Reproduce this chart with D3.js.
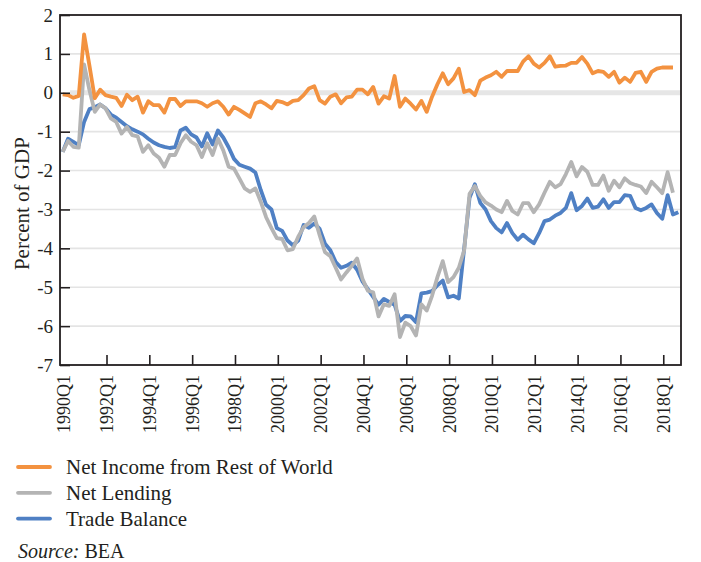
<!DOCTYPE html>
<html>
<head>
<meta charset="utf-8">
<script src="https://cdn.jsdelivr.net/npm/d3@7/dist/d3.min.js"></script>
<style>
  body { margin: 0; background: #fff; }
  svg text { font-family: "Liberation Serif", "DejaVu Serif", serif; fill: #231f20; }
</style>
</head>
<body>
<div id="chart"></div>
<script>
// quarterly series, percent of GDP, starting 1990Q1
const netIncome = [
  -0.04, -0.06, -0.13, -0.08, 1.5, 0.7, -0.14, 0.08, -0.06, -0.1,
  -0.13, -0.34, -0.05, -0.19, -0.1, -0.51, -0.22, -0.32, -0.32, -0.51,
  -0.16, -0.16, -0.34, -0.22, -0.22, -0.22, -0.27, -0.36, -0.27, -0.22,
  -0.36, -0.56, -0.36, -0.44, -0.53, -0.62, -0.27, -0.22, -0.3, -0.4,
  -0.21, -0.24, -0.3, -0.21, -0.19, -0.06, 0.11, 0.17, -0.19, -0.28,
  -0.1, -0.04, -0.27, -0.12, -0.1, 0.08, 0.08, -0.04, 0.15, -0.28,
  -0.09, -0.15, 0.43, -0.36, -0.15, -0.28, -0.43, -0.21, -0.49, -0.1,
  0.22, 0.5, 0.22, 0.37, 0.62, 0.02, 0.07, -0.06, 0.31, 0.39,
  0.45, 0.54, 0.41, 0.56, 0.56, 0.56, 0.8, 0.94, 0.75, 0.65,
  0.77, 0.94, 0.67, 0.69, 0.7, 0.77, 0.77, 0.92, 0.75, 0.5,
  0.56, 0.54, 0.41, 0.54, 0.26, 0.39, 0.28, 0.51, 0.54, 0.28,
  0.54, 0.62, 0.65, 0.65, 0.65
];
const netLending = [
  -1.52, -1.24, -1.39, -1.41, 0.73, 0.07, -0.49, -0.3, -0.4, -0.66,
  -0.75, -1.05, -0.88, -1.09, -1.12, -1.52, -1.35, -1.56, -1.67, -1.9,
  -1.6, -1.6, -1.3, -1.09, -1.26, -1.35, -1.65, -1.3, -1.6, -1.18,
  -1.48, -1.9, -1.95, -2.2, -2.46, -2.55, -2.46, -2.8, -3.2, -3.48,
  -3.74, -3.76, -4.05, -4.02, -3.7, -3.46, -3.35, -3.18, -3.66, -4.1,
  -4.2, -4.5, -4.8, -4.62, -4.45, -4.26, -4.78, -5.09, -5.13, -5.75,
  -5.44, -5.48, -5.18, -6.28, -5.91, -6.0, -6.24, -5.44, -5.6, -5.22,
  -4.74, -4.33, -4.87, -4.74, -4.5, -4.05, -2.6, -2.4, -2.65, -2.82,
  -2.9, -3.0, -3.07, -2.78, -3.04, -3.13, -2.84, -2.84, -3.07, -2.87,
  -2.57, -2.29, -2.43, -2.35, -2.09, -1.78, -2.15, -1.91, -2.03, -2.37,
  -2.37, -2.13, -2.52, -2.26, -2.43, -2.2, -2.32, -2.37, -2.41, -2.58,
  -2.29, -2.43, -2.58, -2.04, -2.57
];
const tradeBalance = [
  -1.52, -1.18, -1.26, -1.35, -0.75, -0.42, -0.37, -0.3, -0.4, -0.56,
  -0.64, -0.75, -0.86, -0.94, -1.0, -1.07, -1.18, -1.28, -1.35, -1.39,
  -1.42, -1.4, -0.97, -0.9, -1.07, -1.15, -1.38, -1.04, -1.33, -0.97,
  -1.15, -1.4, -1.7, -1.85, -1.9, -1.95, -2.05, -2.5, -2.88, -3.0,
  -3.48, -3.55, -3.8, -3.92, -3.8, -3.4, -3.47, -3.36, -3.5, -3.88,
  -4.05, -4.35, -4.5, -4.45, -4.37, -4.55, -4.85, -5.05, -5.25, -5.45,
  -5.3, -5.38, -5.45, -5.87, -5.74, -5.75, -5.9, -5.16, -5.14, -5.1,
  -4.95, -4.83, -5.26, -5.22, -5.29, -4.0, -2.7, -2.35, -2.83, -3.0,
  -3.3, -3.48, -3.59, -3.35, -3.61, -3.78, -3.65, -3.77, -3.87, -3.61,
  -3.3, -3.26, -3.16, -3.09, -2.96, -2.58, -3.02, -2.91, -2.72, -2.96,
  -2.93, -2.74, -2.96, -2.81, -2.81, -2.63, -2.65, -2.96, -3.02, -2.96,
  -2.87, -3.09, -3.24, -2.63, -3.13, -3.07
];

const years = d3.range(1990, 2019);
const quarters = years.flatMap(y => [1, 2, 3, 4].map(q => y + 'Q' + q));
const xTickLabels = ['1990Q1', '1992Q1', '1994Q1', '1996Q1', '1998Q1', '2000Q1', '2002Q1',
  '2004Q1', '2006Q1', '2008Q1', '2010Q1', '2012Q1', '2014Q1', '2016Q1', '2018Q1'];
const yTicks = [-7, -6, -5, -4, -3, -2, -1, 0, 1, 2];

const series = [
  {name: 'Net Income from Rest of World', values: netIncome, color: '#f39240'},
  {name: 'Net Lending', values: netLending, color: '#b4b4b4'},
  {name: 'Trade Balance', values: tradeBalance, color: '#4f80c4'}
];

const config = {
  width: 701, height: 562,
  margin: {top: 15, right: 20, bottom: 197, left: 60}
};
const innerW = config.width - config.margin.left - config.margin.right;
const innerH = config.height - config.margin.top - config.margin.bottom;

const svg = d3.select('#chart').append('svg')
    .attr('width', config.width)
    .attr('height', config.height);

const chart = svg.append('g')
    .attr('transform', `translate(${config.margin.left},${config.margin.top})`);

const xScale = d3.scaleBand()
    .domain(quarters)
    .range([0, innerW]);
const xPos = q => xScale(q) + xScale.bandwidth() / 2;

const yScale = d3.scaleLinear()
    .domain([-7, 2])
    .range([innerH, 0]);

// gridlines (zero line drawn heavier)
chart.append('g')
  .selectAll('line')
  .data(yTicks.filter(d => d !== 2 && d !== -7))
  .join('line')
    .attr('x1', 10)
    .attr('x2', innerW)
    .attr('y1', d => yScale(d))
    .attr('y2', d => yScale(d))
    .attr('stroke', d => d === 0 ? '#e6e6e6' : '#e4e4e4')
    .attr('stroke-width', d => d === 0 ? 5 : 1.6);

// lines
const line = d3.line()
    .x((d, i) => xPos(quarters[i]))
    .y(d => yScale(d));

chart.append('g')
  .selectAll('path')
  .data(series.slice().reverse())
  .join('path')
    .attr('fill', 'none')
    .attr('stroke', d => d.color)
    .attr('stroke-width', 3.8)
    .attr('stroke-linejoin', 'round')
    .attr('d', d => line(d.values));

// y axis, ticks pointing inward
const yAxis = d3.axisLeft(yScale)
    .tickValues(yTicks)
    .tickSize(-10)
    .tickPadding(17)
    .tickFormat(d => String(d).replace('\u2212', '-'));

const yAxisG = chart.append('g').call(yAxis);
yAxisG.select('.domain').remove();
yAxisG.selectAll('.tick line').attr('stroke', '#231f20').attr('stroke-width', 1.6);
yAxisG.selectAll('.tick text')
    .attr('font-size', 19)
    .attr('fill', '#231f20')
    .attr('x', -7);

// x axis, ticks pointing up
const xAxis = d3.axisBottom(xScale)
    .tickValues(xTickLabels)
    .tickSize(-10)
    .tickSizeOuter(0);

const xAxisG = chart.append('g')
    .attr('transform', `translate(0,${innerH})`)
    .call(xAxis);
xAxisG.select('.domain').remove();
xAxisG.selectAll('.tick')
    .attr('transform', d => `translate(${xPos(d) + 1.5},0)`);
xAxisG.selectAll('.tick line').attr('stroke', '#231f20').attr('stroke-width', 1.6);
xAxisG.selectAll('.tick line').filter(d => d === '1990Q1').remove();
xAxisG.selectAll('.tick text')
    .attr('font-size', 18)
    .attr('fill', '#231f20')
    .attr('transform', 'rotate(-90)')
    .attr('text-anchor', 'end')
    .attr('x', -10)
    .attr('y', 0)
    .attr('dy', '0.33em');

// frame
chart.append('rect')
    .attr('width', innerW)
    .attr('height', innerH)
    .attr('fill', 'none')
    .attr('stroke', '#231f20')
    .attr('stroke-width', 1.8);

// axis title
svg.append('text')
    .attr('transform', `translate(29,${config.margin.top + yScale(-2.85)}) rotate(-90)`)
    .attr('text-anchor', 'middle')
    .attr('font-size', 21)
    .text('Percent of GDP');

// legend
const legend = svg.append('g')
    .attr('transform', 'translate(18,467)');

const items = legend.selectAll('g')
  .data(series)
  .join('g')
    .attr('transform', (d, i) => `translate(0,${i * 25.8})`);

items.append('line')
    .attr('x1', 0)
    .attr('x2', 32)
    .attr('stroke', d => d.color)
    .attr('stroke-width', 3.8)
    .attr('stroke-linecap', 'round');

items.append('text')
    .attr('x', 48)
    .attr('dy', '0.33em')
    .attr('font-size', 21)
    .text(d => d.name);

// source
const source = svg.append('text')
    .attr('x', 18)
    .attr('y', 558)
    .attr('font-size', 20);
source.append('tspan').attr('font-style', 'italic').text('Source:');
source.append('tspan').text(' BEA');
</script>
</body>
</html>
